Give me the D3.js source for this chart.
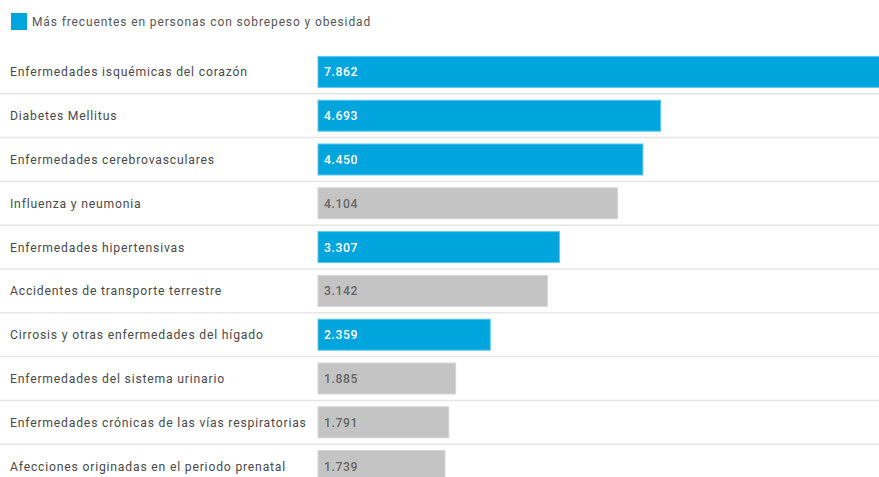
<!DOCTYPE html>
<html><head><meta charset="utf-8">
<script src="https://cdn.jsdelivr.net/npm/d3@7"></script>
<style>
html,body{margin:0;padding:0;background:#fff;overflow:hidden;}
svg{display:block;font-family:Roboto,"Noto Sans",sans-serif;}
</style></head>
<body>
<svg id="c" width="879" height="477"></svg>
<script>
const categories = [
  "Enfermedades isquémicas del corazón",
  "Diabetes Mellitus",
  "Enfermedades cerebrovasculares",
  "Influenza y neumonia",
  "Enfermedades hipertensivas",
  "Accidentes de transporte terrestre",
  "Cirrosis y otras enfermedades del hígado",
  "Enfermedades del sistema urinario",
  "Enfermedades crónicas de las vías respiratorias",
  "Afecciones originadas en el periodo prenatal"
];
const values = [7862, 4693, 4450, 4104, 3307, 3142, 2359, 1885, 1791, 1739];
const highlighted = [true, true, true, false, true, false, true, false, false, false];
const legendLabel = "Más frecuentes en personas con sobrepeso y obesidad";

const svg = d3.select("#c");
const W = 879;
const colBlue = "#00a5dd", colGray = "#c4c4c4";
const locale = d3.formatLocale({decimal: ",", thousands: ".", grouping: [3], currency: ["$", ""]});
const fmt = locale.format(",d");

// legend
const lg = svg.append("g");
lg.append("rect").attr("x", 11).attr("y", 13).attr("width", 16).attr("height", 17).attr("fill", colBlue);
lg.append("text").attr("x", 32).attr("y", 26).attr("font-size", 12).attr("letter-spacing", 0.88)
  .attr("fill", "#555").text(legendLabel);

const y = d3.scaleBand().domain(d3.range(categories.length)).range([50, 50 + 43.8 * categories.length]).paddingInner(0).paddingOuter(0);
const x = d3.scaleLinear().domain([0, 7862]).range([0, 574]);
const x0 = 318;
const barH = 31;

const rows = svg.append("g").selectAll("g").data(categories).join("g")
  .attr("transform", (d, i) => `translate(0,${y(i)})`);

rows.filter((d, i) => i < categories.length - 1).append("line")
  .attr("x1", 0).attr("x2", W).attr("y1", y.bandwidth()).attr("y2", y.bandwidth())
  .attr("stroke", "#e6e6e6").attr("stroke-width", 1.5);

rows.append("text").attr("x", 10).attr("y", y.bandwidth() / 2 + 4.5)
  .attr("font-size", 12.2).attr("letter-spacing", 0.8).attr("fill", "#4a4a4a").text(d => d);

rows.append("rect")
  .attr("x", x0).attr("y", (y.bandwidth() - barH) / 2)
  .attr("width", (d, i) => x(values[i])).attr("height", barH)
  .attr("fill", (d, i) => highlighted[i] ? colBlue : colGray)
  .attr("stroke", (d, i) => highlighted[i] ? "#5cc8ee" : "#d6d6d6").attr("stroke-width", 1);

rows.append("text").attr("x", x0 + 6).attr("y", y.bandwidth() / 2 + 4.5)
  .attr("font-size", 12.2).attr("font-weight", 500).attr("letter-spacing", 0.6)
  .attr("fill", (d, i) => highlighted[i] ? "#fff" : "#666")
  .text((d, i) => fmt(values[i]));
</script>
</body></html>
